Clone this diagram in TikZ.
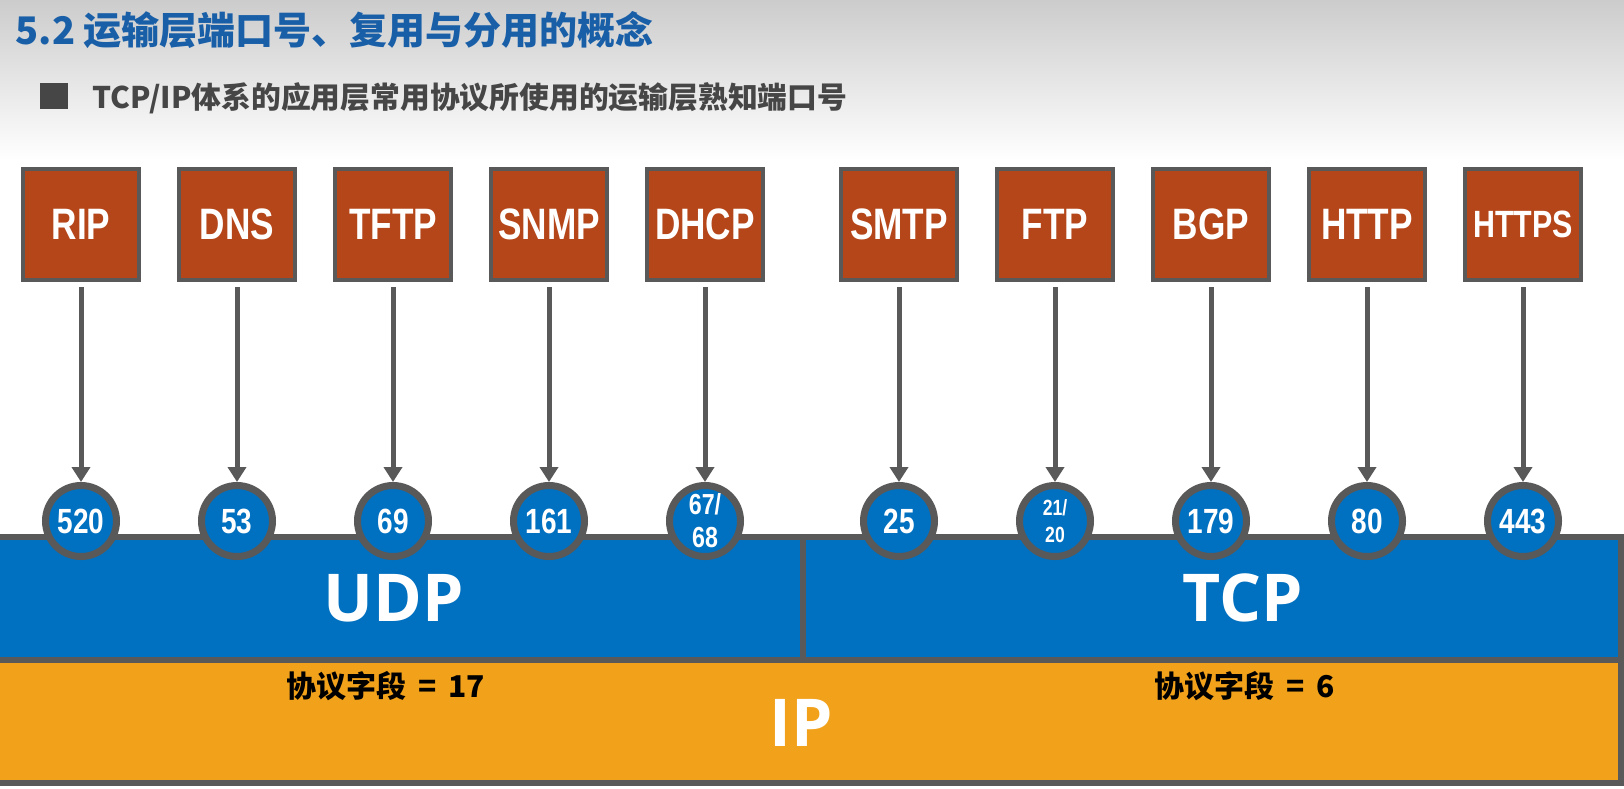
\documentclass[tikz,border=0pt]{standalone}
\usepackage{fontspec}
\setmainfont{Liberation Sans}
\newfontfamily\cjkfont{Noto Sans CJK SC}
\newfontfamily\narrowfont[FakeStretch=0.8]{Liberation Sans}
\newfontfamily\layerfont{Open Sans}
\usetikzlibrary{arrows.meta}
\definecolor{titleblue}{RGB}{25,95,168}
\definecolor{subgray}{RGB}{70,70,70}
\definecolor{edgegray}{RGB}{89,89,89}
\definecolor{protorange}{RGB}{181,70,26}
\definecolor{portblue}{RGB}{0,112,192}
\definecolor{ipyellow}{RGB}{242,161,26}

\begin{document}
\begin{tikzpicture}[x=1pt, y=-1pt,
  >={Triangle[width=18pt,length=15pt]},
  proto/.style={draw=edgegray, line width=4pt, fill=protorange,
    minimum width=116pt, minimum height=111pt, inner sep=0pt, text=white,
    font=\narrowfont\bfseries\fontsize{44}{44}\selectfont},
  port/.style={circle, draw=edgegray, line width=7pt, fill=portblue,
    minimum size=71pt, inner sep=0pt, text=white, align=center,
    font=\narrowfont\bfseries\fontsize{35}{35}\selectfont},
  flow/.style={->, draw=edgegray, line width=5pt, shorten <=5pt},
  bar/.style={draw=edgegray, line width=6pt},
  layer/.style={text=white, font=\layerfont\bfseries\fontsize{66}{66}\selectfont},
  field/.style={text=black, font=\cjkfont\bfseries\fontsize{30}{30}\selectfont}]
  \useasboundingbox (0,0) rectangle (1624,788);
  \shade[top color=black!20, bottom color=white] (0,0) rectangle (1624,160);
  % heading
  \node[anchor=west, text=titleblue, font=\cjkfont\bfseries\fontsize{38}{38}\selectfont]
    (title) at (12,30) {5.2 运输层端口号、复用与分用的概念};
  \node[fill=subgray, minimum width=28pt, minimum height=26pt, inner sep=0pt]
    (bullet) at (54,96) {};
  \node[anchor=west, text=subgray, font=\cjkfont\bfseries\fontsize{29.8}{30}\selectfont]
    (subtitle) at (89,98) {TCP/IP体系的应用层常用协议所使用的运输层熟知端口号};
  % transport and network layers
  \draw[bar, fill=portblue] (-10,537) rectangle (803,660);
  \draw[bar, fill=portblue] (803,537) rectangle (1621,660);
  \draw[bar, fill=ipyellow] (-10,660) rectangle (1621,783);
  \node[layer] (udp) at (394,598) {UDP};
  \node[layer] (tcp) at (1243,598) {TCP};
  \node[layer] (ip) at (801,723) {IP};
  \node[field] (f17) at (386,686) {协议字段\ \,=\ \,17};
  \node[field] (f6) at (1245,686) {协议字段\ \,=\ \,6};
  % application protocols over UDP
  \node[proto] (rip) at (81,224.5) {RIP};
  \node[proto] (dns) at (237,224.5) {DNS};
  \node[proto] (tftp) at (393,224.5) {TFTP};
  \node[proto] (snmp) at (549,224.5) {SNMP};
  \node[proto] (dhcp) at (705,224.5) {DHCP};
  \node[port] (p520) at (81,521) {520};
  \node[port] (p53) at (237,521) {53};
  \node[port] (p69) at (393,521) {69};
  \node[port] (p161) at (549,521) {161};
  \node[port, font=\narrowfont\bfseries\fontsize{29}{33}\selectfont] (p67) at (705,521) {67/\\68};
  \draw[flow] (rip) -- (p520);
  \draw[flow] (dns) -- (p53);
  \draw[flow] (tftp) -- (p69);
  \draw[flow] (snmp) -- (p161);
  \draw[flow] (dhcp) -- (p67);
  % application protocols over TCP
  \node[proto] (smtp) at (899,224.5) {SMTP};
  \node[proto] (ftp) at (1055,224.5) {FTP};
  \node[proto] (bgp) at (1211,224.5) {BGP};
  \node[proto] (http) at (1367,224.5) {HTTP};
  \node[proto, font=\narrowfont\bfseries\fontsize{38}{38}\selectfont] (https) at (1523,224.5) {HTTPS};
  \node[port] (p25) at (899,521) {25};
  \node[port, font=\narrowfont\bfseries\fontsize{22}{27}\selectfont] (p21) at (1055,521) {21/\\20};
  \node[port] (p179) at (1211,521) {179};
  \node[port] (p80) at (1367,521) {80};
  \node[port] (p443) at (1523,521) {443};
  \draw[flow] (smtp) -- (p25);
  \draw[flow] (ftp) -- (p21);
  \draw[flow] (bgp) -- (p179);
  \draw[flow] (http) -- (p80);
  \draw[flow] (https) -- (p443);
\end{tikzpicture}
\end{document}
